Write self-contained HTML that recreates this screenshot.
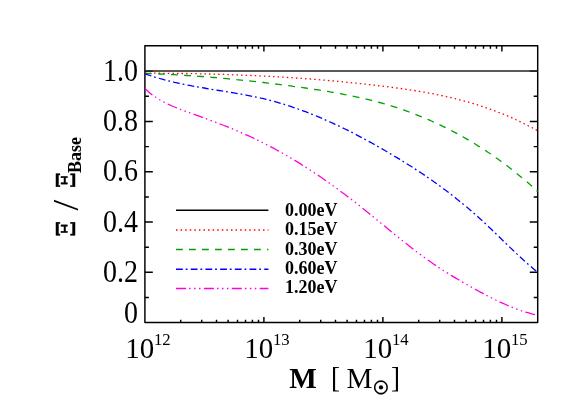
<!DOCTYPE html>
<html lang="en"><head><meta charset="utf-8"><title>Plot</title>
<style>html,body{margin:0;padding:0;background:#fff;}svg{display:block;will-change:transform;}</style>
</head><body>
<svg width="581" height="415" viewBox="0 0 581 415">
<rect width="581" height="415" fill="#fff"/>
<g stroke="#000" stroke-width="1.45" fill="none" stroke-linecap="butt" stroke-linejoin="round">
<rect x="144.9" y="45.8" width="392.8" height="276.8"/>
<path d="M180.7,322.6v-2.9M180.7,45.8v2.9M201.7,322.6v-2.9M201.7,45.8v2.9M216.5,322.6v-2.9M216.5,45.8v2.9M228.1,322.6v-2.9M228.1,45.8v2.9M237.5,322.6v-2.9M237.5,45.8v2.9M245.5,322.6v-2.9M245.5,45.8v2.9M252.4,322.6v-2.9M252.4,45.8v2.9M258.5,322.6v-2.9M258.5,45.8v2.9M263.9,322.6v-5.6M263.9,45.8v5.6M299.7,322.6v-2.9M299.7,45.8v2.9M320.7,322.6v-2.9M320.7,45.8v2.9M335.5,322.6v-2.9M335.5,45.8v2.9M347.1,322.6v-2.9M347.1,45.8v2.9M356.5,322.6v-2.9M356.5,45.8v2.9M364.5,322.6v-2.9M364.5,45.8v2.9M371.4,322.6v-2.9M371.4,45.8v2.9M377.5,322.6v-2.9M377.5,45.8v2.9M382.9,322.6v-5.6M382.9,45.8v5.6M418.7,322.6v-2.9M418.7,45.8v2.9M439.7,322.6v-2.9M439.7,45.8v2.9M454.5,322.6v-2.9M454.5,45.8v2.9M466.1,322.6v-2.9M466.1,45.8v2.9M475.5,322.6v-2.9M475.5,45.8v2.9M483.5,322.6v-2.9M483.5,45.8v2.9M490.4,322.6v-2.9M490.4,45.8v2.9M496.5,322.6v-2.9M496.5,45.8v2.9M501.9,322.6v-5.6M501.9,45.8v5.6M144.9,297.5h4.0M537.7,297.5h-4.0M144.9,272.3h7.9M537.7,272.3h-7.9M144.9,247.2h4.0M537.7,247.2h-4.0M144.9,222.0h7.9M537.7,222.0h-7.9M144.9,196.9h4.0M537.7,196.9h-4.0M144.9,171.7h7.9M537.7,171.7h-7.9M144.9,146.6h4.0M537.7,146.6h-4.0M144.9,121.4h7.9M537.7,121.4h-7.9M144.9,96.3h4.0M537.7,96.3h-4.0M144.9,71.1h7.9M537.7,71.1h-7.9"/>
</g>
<g fill="none" stroke-width="1.3">
<path d="M144.9,71.1H537.7" stroke="#222" stroke-width="1.5"/>
<path d="M144.9,73.2 L147.4,73.2 L149.8,73.2 L152.3,73.2 L154.8,73.2 L157.3,73.2 L159.7,73.2 L162.2,73.3 L164.7,73.3 L167.1,73.3 L169.6,73.3 L172.1,73.3 L174.5,73.4 L177.0,73.4 L179.5,73.4 L182.0,73.5 L184.4,73.5 L186.9,73.5 L189.4,73.6 L191.8,73.6 L194.3,73.7 L196.8,73.7 L199.2,73.8 L201.7,73.8 L204.2,73.9 L206.7,74.0 L209.1,74.0 L211.6,74.1 L214.1,74.1 L216.5,74.2 L219.0,74.3 L221.5,74.4 L224.0,74.4 L226.4,74.5 L228.9,74.6 L231.4,74.7 L233.8,74.8 L236.3,74.9 L238.8,75.0 L241.2,75.1 L243.7,75.2 L246.2,75.3 L248.7,75.4 L251.1,75.5 L253.6,75.6 L256.1,75.7 L258.5,75.8 L261.0,75.9 L263.5,76.1 L266.0,76.2 L268.4,76.3 L270.9,76.5 L273.4,76.6 L275.8,76.7 L278.3,76.9 L280.8,77.0 L283.2,77.2 L285.7,77.3 L288.2,77.5 L290.7,77.6 L293.1,77.8 L295.6,78.0 L298.1,78.1 L300.5,78.3 L303.0,78.5 L305.5,78.7 L307.9,78.9 L310.4,79.0 L312.9,79.2 L315.4,79.4 L317.8,79.6 L320.3,79.8 L322.8,80.0 L325.2,80.2 L327.7,80.5 L330.2,80.7 L332.7,80.9 L335.1,81.1 L337.6,81.3 L340.1,81.6 L342.5,81.8 L345.0,82.1 L347.5,82.3 L349.9,82.5 L352.4,82.8 L354.9,83.0 L357.4,83.3 L359.8,83.6 L362.3,83.8 L364.8,84.1 L367.2,84.4 L369.7,84.7 L372.2,84.9 L374.7,85.2 L377.1,85.5 L379.6,85.8 L382.1,86.1 L384.5,86.4 L387.0,86.7 L389.5,87.0 L391.9,87.3 L394.4,87.7 L396.9,88.0 L399.4,88.3 L401.8,88.7 L404.3,89.0 L406.8,89.4 L409.2,89.8 L411.7,90.2 L414.2,90.5 L416.6,90.9 L419.1,91.3 L421.6,91.8 L424.1,92.2 L426.5,92.6 L429.0,93.1 L431.5,93.5 L433.9,94.0 L436.4,94.5 L438.9,95.0 L441.4,95.5 L443.8,96.1 L446.3,96.6 L448.8,97.2 L451.2,97.7 L453.7,98.3 L456.2,98.9 L458.6,99.6 L461.1,100.2 L463.6,100.9 L466.1,101.6 L468.5,102.2 L471.0,103.0 L473.5,103.7 L475.9,104.4 L478.4,105.2 L480.9,106.0 L483.4,106.8 L485.8,107.7 L488.3,108.5 L490.8,109.4 L493.2,110.3 L495.7,111.2 L498.2,112.2 L500.6,113.1 L503.1,114.1 L505.6,115.1 L508.1,116.2 L510.5,117.2 L513.0,118.3 L515.5,119.5 L517.9,120.6 L520.4,121.8 L522.9,123.0 L525.3,124.2 L527.8,125.5 L530.3,126.7 L532.8,128.1 L535.2,129.4 L537.7,130.8" stroke="#ff0000" stroke-dasharray="1.5 3.08"/>
<path d="M144.9,73.4 L147.4,73.5 L149.8,73.6 L152.3,73.7 L154.8,73.8 L157.3,73.9 L159.7,74.0 L162.2,74.1 L164.7,74.2 L167.1,74.3 L169.6,74.5 L172.1,74.6 L174.5,74.7 L177.0,74.9 L179.5,75.0 L182.0,75.2 L184.4,75.3 L186.9,75.5 L189.4,75.7 L191.8,75.8 L194.3,76.0 L196.8,76.2 L199.2,76.4 L201.7,76.5 L204.2,76.7 L206.7,76.9 L209.1,77.1 L211.6,77.3 L214.1,77.5 L216.5,77.7 L219.0,78.0 L221.5,78.2 L224.0,78.4 L226.4,78.6 L228.9,78.9 L231.4,79.1 L233.8,79.3 L236.3,79.6 L238.8,79.8 L241.2,80.1 L243.7,80.4 L246.2,80.6 L248.7,80.9 L251.1,81.1 L253.6,81.4 L256.1,81.7 L258.5,82.0 L261.0,82.3 L263.5,82.5 L266.0,82.8 L268.4,83.1 L270.9,83.4 L273.4,83.7 L275.8,84.0 L278.3,84.3 L280.8,84.7 L283.2,85.0 L285.7,85.3 L288.2,85.6 L290.7,85.9 L293.1,86.3 L295.6,86.6 L298.1,87.0 L300.5,87.3 L303.0,87.6 L305.5,88.0 L307.9,88.4 L310.4,88.7 L312.9,89.1 L315.4,89.5 L317.8,89.8 L320.3,90.2 L322.8,90.6 L325.2,91.0 L327.7,91.4 L330.2,91.9 L332.7,92.3 L335.1,92.7 L337.6,93.2 L340.1,93.6 L342.5,94.1 L345.0,94.6 L347.5,95.0 L349.9,95.5 L352.4,96.1 L354.9,96.6 L357.4,97.1 L359.8,97.6 L362.3,98.2 L364.8,98.8 L367.2,99.3 L369.7,99.9 L372.2,100.6 L374.7,101.2 L377.1,101.8 L379.6,102.5 L382.1,103.2 L384.5,103.9 L387.0,104.6 L389.5,105.3 L391.9,106.1 L394.4,106.9 L396.9,107.7 L399.4,108.5 L401.8,109.3 L404.3,110.2 L406.8,111.1 L409.2,112.0 L411.7,112.9 L414.2,113.8 L416.6,114.8 L419.1,115.8 L421.6,116.8 L424.1,117.8 L426.5,118.8 L429.0,119.9 L431.5,121.0 L433.9,122.1 L436.4,123.2 L438.9,124.4 L441.4,125.6 L443.8,126.8 L446.3,128.0 L448.8,129.3 L451.2,130.5 L453.7,131.8 L456.2,133.1 L458.6,134.5 L461.1,135.8 L463.6,137.2 L466.1,138.6 L468.5,140.1 L471.0,141.5 L473.5,143.0 L475.9,144.5 L478.4,146.1 L480.9,147.6 L483.4,149.2 L485.8,150.8 L488.3,152.5 L490.8,154.1 L493.2,155.8 L495.7,157.6 L498.2,159.3 L500.6,161.1 L503.1,162.9 L505.6,164.7 L508.1,166.6 L510.5,168.5 L513.0,170.4 L515.5,172.4 L517.9,174.4 L520.4,176.4 L522.9,178.4 L525.3,180.5 L527.8,182.6 L530.3,184.8 L532.8,187.0 L535.2,189.2 L537.7,191.5" stroke="#00a000" stroke-dasharray="6.85 6.23"/>
<path d="M144.9,73.8 L147.4,74.7 L149.8,75.5 L152.3,76.3 L154.8,77.1 L157.3,77.8 L159.7,78.5 L162.2,79.2 L164.7,79.9 L167.1,80.5 L169.6,81.1 L172.1,81.7 L174.5,82.3 L177.0,82.8 L179.5,83.4 L182.0,83.9 L184.4,84.4 L186.9,84.9 L189.4,85.4 L191.8,85.9 L194.3,86.3 L196.8,86.8 L199.2,87.2 L201.7,87.6 L204.2,88.0 L206.7,88.5 L209.1,88.9 L211.6,89.3 L214.1,89.7 L216.5,90.1 L219.0,90.5 L221.5,90.9 L224.0,91.3 L226.4,91.7 L228.9,92.1 L231.4,92.5 L233.8,92.9 L236.3,93.3 L238.8,93.8 L241.2,94.2 L243.7,94.6 L246.2,95.1 L248.7,95.6 L251.1,96.1 L253.6,96.6 L256.1,97.1 L258.5,97.6 L261.0,98.2 L263.5,98.7 L266.0,99.3 L268.4,99.9 L270.9,100.6 L273.4,101.2 L275.8,101.9 L278.3,102.6 L280.8,103.3 L283.2,104.1 L285.7,104.8 L288.2,105.6 L290.7,106.4 L293.1,107.3 L295.6,108.1 L298.1,109.0 L300.5,109.9 L303.0,110.8 L305.5,111.7 L307.9,112.6 L310.4,113.6 L312.9,114.6 L315.4,115.6 L317.8,116.6 L320.3,117.7 L322.8,118.7 L325.2,119.8 L327.7,120.9 L330.2,122.0 L332.7,123.1 L335.1,124.3 L337.6,125.4 L340.1,126.6 L342.5,127.8 L345.0,129.0 L347.5,130.2 L349.9,131.5 L352.4,132.7 L354.9,134.0 L357.4,135.3 L359.8,136.6 L362.3,137.9 L364.8,139.2 L367.2,140.6 L369.7,141.9 L372.2,143.3 L374.7,144.7 L377.1,146.1 L379.6,147.5 L382.1,148.9 L384.5,150.3 L387.0,151.8 L389.5,153.2 L391.9,154.7 L394.4,156.2 L396.9,157.6 L399.4,159.1 L401.8,160.6 L404.3,162.2 L406.8,163.7 L409.2,165.3 L411.7,166.8 L414.2,168.4 L416.6,170.0 L419.1,171.6 L421.6,173.3 L424.1,174.9 L426.5,176.6 L429.0,178.3 L431.5,180.0 L433.9,181.8 L436.4,183.5 L438.9,185.3 L441.4,187.1 L443.8,188.9 L446.3,190.8 L448.8,192.6 L451.2,194.5 L453.7,196.5 L456.2,198.4 L458.6,200.4 L461.1,202.4 L463.6,204.4 L466.1,206.5 L468.5,208.6 L471.0,210.7 L473.5,212.9 L475.9,215.0 L478.4,217.3 L480.9,219.5 L483.4,221.8 L485.8,224.1 L488.3,226.4 L490.8,228.8 L493.2,231.2 L495.7,233.5 L498.2,235.9 L500.6,238.3 L503.1,240.7 L505.6,243.1 L508.1,245.5 L510.5,247.9 L513.0,250.3 L515.5,252.6 L517.9,254.9 L520.4,257.2 L522.9,259.5 L525.3,261.7 L527.8,263.9 L530.3,266.1 L532.8,268.2 L535.2,270.2 L537.7,272.2" stroke="#0000ff" stroke-dasharray="6.8 2.9 1.8 3.2"/>
<path d="M144.9,88.5 L147.4,90.8 L149.8,92.9 L152.3,94.9 L154.8,96.6 L157.3,98.3 L159.7,99.8 L162.2,101.2 L164.7,102.5 L167.1,103.7 L169.6,104.9 L172.1,106.0 L174.5,107.0 L177.0,107.9 L179.5,108.9 L182.0,109.8 L184.4,110.8 L186.9,111.7 L189.4,112.6 L191.8,113.5 L194.3,114.4 L196.8,115.3 L199.2,116.2 L201.7,117.1 L204.2,118.0 L206.7,118.9 L209.1,119.8 L211.6,120.8 L214.1,121.7 L216.5,122.6 L219.0,123.6 L221.5,124.5 L224.0,125.5 L226.4,126.4 L228.9,127.4 L231.4,128.4 L233.8,129.4 L236.3,130.5 L238.8,131.5 L241.2,132.6 L243.7,133.7 L246.2,134.8 L248.7,135.9 L251.1,137.0 L253.6,138.2 L256.1,139.4 L258.5,140.6 L261.0,141.8 L263.5,143.0 L266.0,144.3 L268.4,145.6 L270.9,146.9 L273.4,148.2 L275.8,149.5 L278.3,150.9 L280.8,152.2 L283.2,153.6 L285.7,155.1 L288.2,156.5 L290.7,157.9 L293.1,159.4 L295.6,160.9 L298.1,162.4 L300.5,163.9 L303.0,165.5 L305.5,167.0 L307.9,168.6 L310.4,170.2 L312.9,171.8 L315.4,173.5 L317.8,175.1 L320.3,176.8 L322.8,178.5 L325.2,180.2 L327.7,181.9 L330.2,183.7 L332.7,185.5 L335.1,187.2 L337.6,189.0 L340.1,190.9 L342.5,192.7 L345.0,194.5 L347.5,196.4 L349.9,198.3 L352.4,200.2 L354.9,202.1 L357.4,204.1 L359.8,206.0 L362.3,208.0 L364.8,210.0 L367.2,212.0 L369.7,214.0 L372.2,216.0 L374.7,218.0 L377.1,220.0 L379.6,222.1 L382.1,224.1 L384.5,226.1 L387.0,228.1 L389.5,230.2 L391.9,232.2 L394.4,234.2 L396.9,236.2 L399.4,238.2 L401.8,240.2 L404.3,242.1 L406.8,244.1 L409.2,246.0 L411.7,247.9 L414.2,249.9 L416.6,251.7 L419.1,253.6 L421.6,255.4 L424.1,257.3 L426.5,259.1 L429.0,260.8 L431.5,262.5 L433.9,264.3 L436.4,265.9 L438.9,267.6 L441.4,269.2 L443.8,270.8 L446.3,272.3 L448.8,273.9 L451.2,275.4 L453.7,276.9 L456.2,278.4 L458.6,279.8 L461.1,281.3 L463.6,282.7 L466.1,284.1 L468.5,285.5 L471.0,286.9 L473.5,288.3 L475.9,289.7 L478.4,291.0 L480.9,292.4 L483.4,293.7 L485.8,295.0 L488.3,296.3 L490.8,297.5 L493.2,298.8 L495.7,300.0 L498.2,301.2 L500.6,302.3 L503.1,303.4 L505.6,304.5 L508.1,305.6 L510.5,306.6 L513.0,307.6 L515.5,308.6 L517.9,309.5 L520.4,310.4 L522.9,311.2 L525.3,312.0 L527.8,312.7 L530.3,313.4 L532.8,314.1 L535.2,314.7 L537.7,315.2" stroke="#ff00dc" stroke-dasharray="9.95 3.08 1.5 3.48 1.5 3.38 1.5 3.38"/>
</g>
<g fill="none" stroke-width="1.5">
<path d="M176.0,210.2H268.4" stroke="#000"/>
<path d="M176.0,229.9H268.4" stroke="#ff0000" stroke-dasharray="1.5 3.08"/>
<path d="M176.0,249.5H268.4" stroke="#00a000" stroke-dasharray="6.8 6.2"/>
<path d="M176.0,269.3H268.4" stroke="#0000ff" stroke-dasharray="6.8 2.9 1.8 3.2"/>
<path d="M176.0,288.6H268.4" stroke="#ff00dc" stroke-dasharray="10 3.1 1.5 3.5 1.5 3.4 1.5 3.4"/>
</g>
<g font-family="'Liberation Serif', serif" fill="#000">
<text transform="translate(137.9,80.8) scale(1.0,1.09)" font-size="28" text-anchor="end">1.0</text>
<text transform="translate(137.9,131.1) scale(1.0,1.09)" font-size="28" text-anchor="end">0.8</text>
<text transform="translate(137.9,181.4) scale(1.0,1.09)" font-size="28" text-anchor="end">0.6</text>
<text transform="translate(137.9,231.7) scale(1.0,1.09)" font-size="28" text-anchor="end">0.4</text>
<text transform="translate(137.9,282.0) scale(1.0,1.09)" font-size="28" text-anchor="end">0.2</text>
<text transform="translate(137.9,323.1) scale(1.0,1.09)" font-size="28" text-anchor="end">0</text>
<text transform="translate(125.3,357.9) scale(1.035,1.086)" font-size="28">10</text>
<text transform="translate(154.0,345.0) scale(0.95,1.0)" font-size="17.6">12</text>
<text transform="translate(244.3,357.9) scale(1.035,1.086)" font-size="28">10</text>
<text transform="translate(273.0,345.0) scale(0.95,1.0)" font-size="17.6">13</text>
<text transform="translate(363.3,357.9) scale(1.035,1.086)" font-size="28">10</text>
<text transform="translate(392.0,345.0) scale(0.95,1.0)" font-size="17.6">14</text>
<text transform="translate(482.3,357.9) scale(1.035,1.086)" font-size="28">10</text>
<text transform="translate(511.0,345.0) scale(0.95,1.0)" font-size="17.6">15</text>
<text transform="translate(285,215.7) scale(1.027,1.1)" font-size="17.5" font-weight="bold">0.00eV</text>
<text transform="translate(285,235.1) scale(1.027,1.1)" font-size="17.5" font-weight="bold">0.15eV</text>
<text transform="translate(285,254.5) scale(1.027,1.1)" font-size="17.5" font-weight="bold">0.30eV</text>
<text transform="translate(285,273.9) scale(1.027,1.1)" font-size="17.5" font-weight="bold">0.60eV</text>
<text transform="translate(285,293.3) scale(1.027,1.1)" font-size="17.5" font-weight="bold">1.20eV</text>
<text transform="translate(289.3,387.8) scale(1.0,1.0)" font-size="29.2" font-weight="bold">M</text>
<text transform="translate(330.9,387.2) scale(1.0,1.125)" font-size="27">[</text>
<text transform="translate(346.4,387.6) scale(1.08,1.066)" font-size="27">M</text>
<text transform="translate(381.0,394.1) scale(1,1)" font-size="21.3" text-anchor="middle" font-family="'DejaVu Sans', sans-serif">⊙</text>
<text transform="translate(390.9,387.2) scale(1.0,1.125)" font-size="27">]</text>
<circle cx="381" cy="387.4" r="2.1"/>
<g transform="translate(75.2,236) rotate(-90)">
<text transform="translate(-0.6,0) scale(0.85,1.0)" font-size="26.2" font-family="'DejaVu Serif', serif" stroke="#000" stroke-width="0.5">Ξ</text>
<text transform="translate(25.5,2.4) scale(1.1,1.0)" font-size="35">/</text>
<text transform="translate(48.0,0) scale(0.85,1.0)" font-size="26.2" font-family="'DejaVu Serif', serif" stroke="#000" stroke-width="0.5">Ξ</text>
<text transform="translate(62.9,6.0) scale(1,1)" font-size="18" font-weight="bold">Base</text>
</g>
</g>
</svg>
</body></html>
